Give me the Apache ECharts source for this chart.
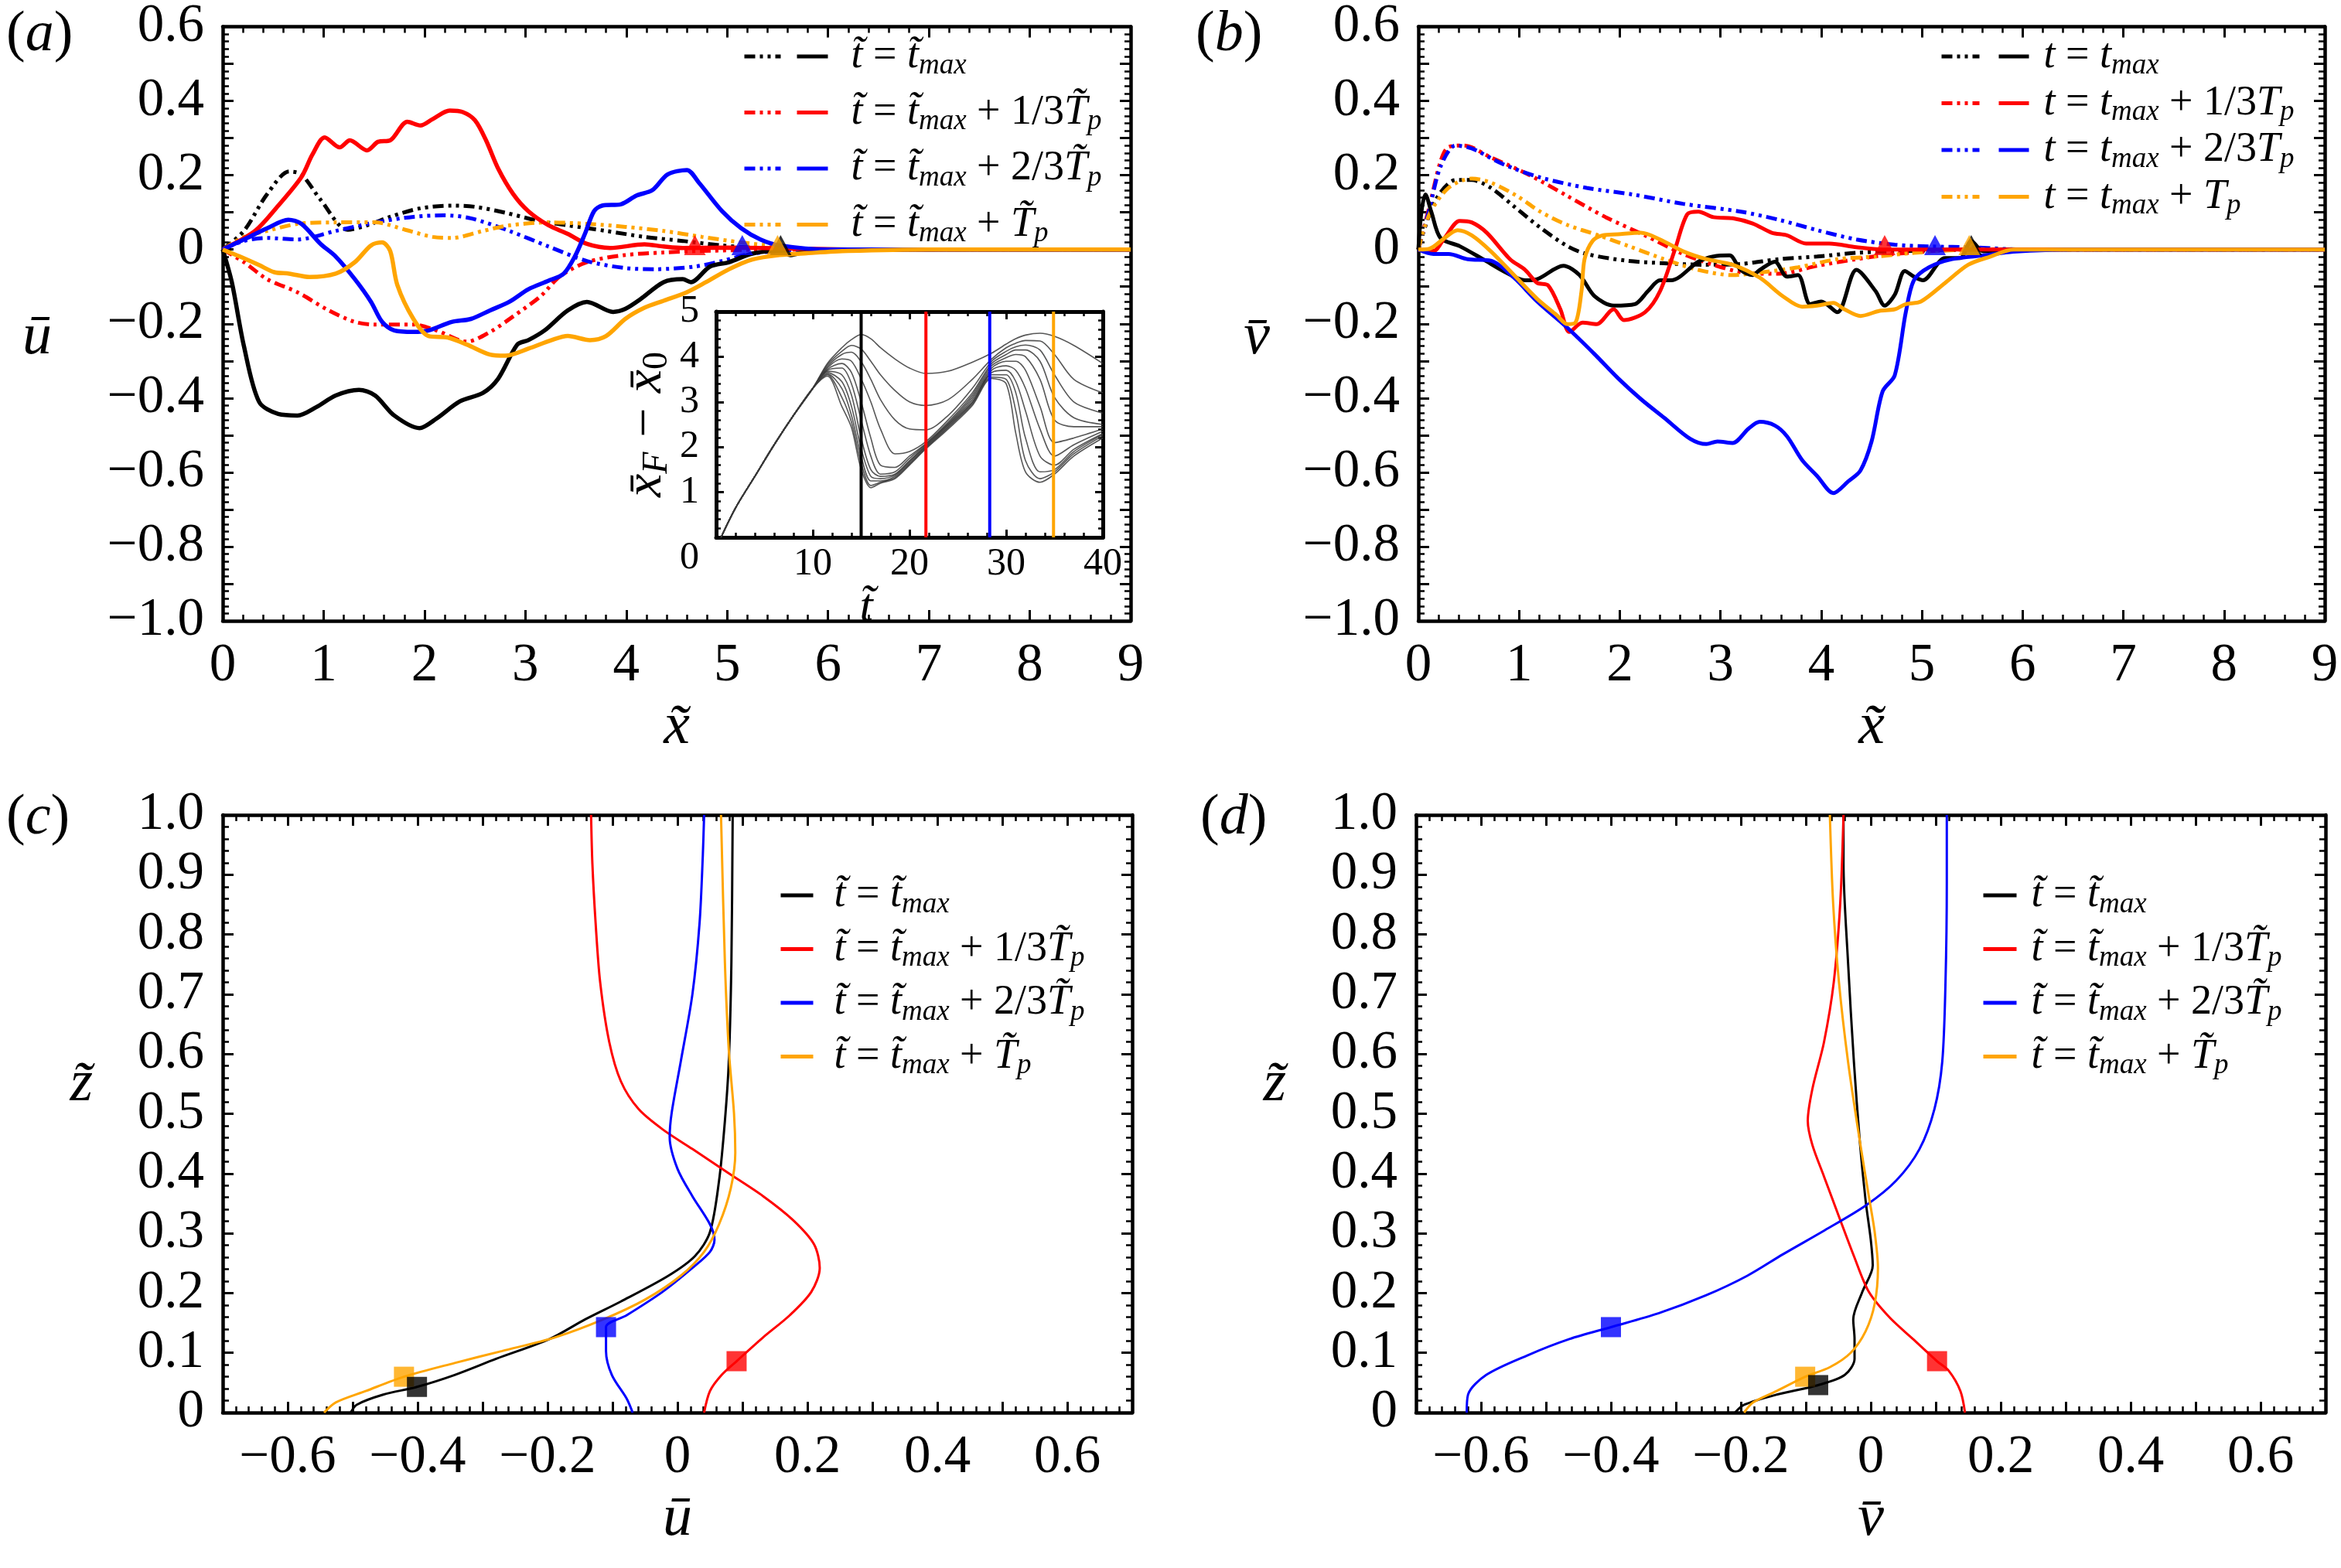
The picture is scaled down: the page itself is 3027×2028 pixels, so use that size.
<!DOCTYPE html>
<html>
<head>
<meta charset="utf-8">
<script src="https://cdn.jsdelivr.net/npm/echarts@6/dist/echarts.min.js"></script>
<style>
html,body{margin:0;padding:0;background:#fff}
#main{width:3027px;height:2028px}
</style>
</head>
<body>
<div id="main"></div>
<script>
// ---- panel (a): u along x, dash-dot = depth mean, solid = near-bed ----
var aBlackSolid = [[0,0],[0.09,-0.088],[0.21,-0.26],[0.36,-0.41],[0.55,-0.443],[0.74,-0.447],[0.93,-0.424],[1.12,-0.393],[1.35,-0.378],[1.51,-0.393],[1.70,-0.447],[1.95,-0.481],[2.12,-0.455],[2.35,-0.409],[2.58,-0.386],[2.73,-0.348],[2.92,-0.256],[3.03,-0.244],[3.19,-0.218],[3.42,-0.164],[3.61,-0.141],[3.87,-0.168],[3.99,-0.16],[4.14,-0.134],[4.37,-0.088],[4.56,-0.08],[4.64,-0.088],[4.83,-0.046],[5.02,-0.034],[5.25,-0.011],[5.52,-0.004],[5.63,-0.015],[5.8,-0.004],[6.2,0],[9,0]];
var aRedSolid = [[0,0],[0.32,0.05],[0.55,0.118],[0.78,0.195],[0.89,0.256],[1.01,0.302],[1.16,0.275],[1.26,0.294],[1.43,0.267],[1.54,0.29],[1.66,0.294],[1.83,0.344],[1.96,0.334],[2.08,0.351],[2.25,0.374],[2.38,0.37],[2.5,0.348],[2.61,0.294],[2.73,0.218],[2.88,0.149],[3.03,0.103],[3.23,0.065],[3.42,0.042],[3.61,0.015],[3.84,0.004],[4.18,0.014],[4.37,0.008],[4.56,0.004],[5.0,0.005],[5.6,0.003],[6.2,0],[9,0]];
var aBlueSolid = [[0,0],[0.21,0.027],[0.44,0.057],[0.65,0.08],[0.78,0.069],[0.97,0.015],[1.12,-0.019],[1.31,-0.08],[1.47,-0.141],[1.58,-0.195],[1.7,-0.218],[1.89,-0.222],[2.04,-0.218],[2.27,-0.195],[2.46,-0.187],[2.65,-0.164],[2.84,-0.141],[3.03,-0.107],[3.23,-0.084],[3.38,-0.065],[3.49,-0.019],[3.59,0.042],[3.68,0.103],[3.76,0.118],[3.95,0.122],[4.1,0.145],[4.26,0.16],[4.41,0.202],[4.6,0.214],[4.72,0.18],[4.95,0.103],[5.14,0.057],[5.33,0.027],[5.52,0.011],[6.0,0],[9,0]];
var aOrangeSolid = [[0,0],[0.17,-0.019],[0.36,-0.042],[0.51,-0.061],[0.66,-0.065],[0.86,-0.074],[1.12,-0.065],[1.31,-0.034],[1.47,0.011],[1.58,0.019],[1.66,-0.004],[1.73,-0.095],[1.89,-0.187],[2.04,-0.233],[2.23,-0.237],[2.42,-0.256],[2.65,-0.283],[2.8,-0.286],[3.03,-0.267],[3.26,-0.244],[3.42,-0.233],[3.64,-0.244],[3.8,-0.233],[3.99,-0.187],[4.18,-0.157],[4.37,-0.138],[4.6,-0.115],[4.79,-0.088],[5.02,-0.053],[5.25,-0.027],[5.52,-0.015],[5.79,-0.01],[6.2,-0.004],[7,0],[9,0]];
var aBlackDash = [[0,0],[0.21,0.05],[0.44,0.149],[0.66,0.21],[0.78,0.202],[0.97,0.134],[1.24,0.053],[1.43,0.065],[1.66,0.088],[1.96,0.111],[2.27,0.118],[2.5,0.115],[2.8,0.099],[3.15,0.076],[3.42,0.065],[3.8,0.05],[4.18,0.034],[4.56,0.023],[4.95,0.011],[5.33,0.004],[6,0],[9,0]];
var aRedDash = [[0,0],[0.21,-0.034],[0.44,-0.08],[0.74,-0.115],[1.05,-0.164],[1.31,-0.195],[1.51,-0.202],[1.89,-0.202],[2.12,-0.218],[2.42,-0.248],[2.65,-0.222],[2.88,-0.18],[3.15,-0.126],[3.34,-0.073],[3.61,-0.034],[3.99,-0.015],[4.37,-0.008],[4.75,-0.004],[5.5,0],[9,0]];
var aBlueDash = [[0,0],[0.21,0.023],[0.44,0.031],[0.74,0.027],[1.12,0.05],[1.51,0.073],[1.89,0.088],[2.19,0.092],[2.46,0.084],[2.84,0.05],[3.23,0.008],[3.61,-0.031],[3.99,-0.05],[4.3,-0.053],[4.68,-0.046],[4.95,-0.031],[5.25,-0.011],[5.8,0],[9,0]];
var aOrangeDash = [[0,0],[0.21,0.034],[0.44,0.05],[0.74,0.069],[1.12,0.073],[1.51,0.073],[1.81,0.053],[2.08,0.034],[2.27,0.031],[2.58,0.05],[2.84,0.065],[3.23,0.073],[3.61,0.069],[3.99,0.061],[4.37,0.05],[4.75,0.034],[5.14,0.019],[5.52,0.008],[5.9,0],[9,0]];
var aFrontX = [5.53, 4.68, 5.15, 5.5];
var aFrontY = [0.012, 0.012, 0.012, 0.012];

// ---- panel (b): v along x ----
var bBlackSolid = [[0,0],[0.03,0.10],[0.07,0.148],[0.13,0.10],[0.22,0.031],[0.41,0.009],[0.64,-0.026],[0.87,-0.062],[1.06,-0.083],[1.18,-0.08],[1.44,-0.044],[1.6,-0.069],[1.75,-0.126],[1.94,-0.151],[2.15,-0.147],[2.28,-0.112],[2.4,-0.083],[2.51,-0.083],[2.78,-0.033],[2.93,-0.019],[3.09,-0.016],[3.2,-0.055],[3.32,-0.069],[3.39,-0.055],[3.54,-0.033],[3.66,-0.073],[3.77,-0.069],[3.89,-0.147],[4.0,-0.14],[4.16,-0.169],[4.35,-0.055],[4.54,-0.112],[4.63,-0.151],[4.73,-0.122],[4.83,-0.058],[4.92,-0.073],[5.01,-0.083],[5.23,-0.023],[5.38,-0.023],[5.49,0.023],[5.61,-0.005],[5.87,0],[9,0]];
var bRedSolid = [[0,0],[0.15,-0.004],[0.26,0.031],[0.41,0.077],[0.53,0.073],[0.68,0.045],[0.91,-0.026],[1.06,-0.055],[1.18,-0.09],[1.29,-0.097],[1.41,-0.161],[1.5,-0.222],[1.63,-0.197],[1.77,-0.201],[1.94,-0.161],[2.04,-0.19],[2.25,-0.169],[2.4,-0.112],[2.55,0.002],[2.67,0.095],[2.78,0.102],[2.93,0.087],[3.12,0.084],[3.32,0.07],[3.51,0.045],[3.66,0.038],[3.85,0.016],[4.08,0.016],[4.35,0.006],[4.61,0],[9,0]];
var bBlueSolid = [[0,0],[0.15,-0.012],[0.3,-0.012],[0.49,-0.026],[0.72,-0.03],[0.95,-0.076],[1.18,-0.14],[1.48,-0.211],[1.75,-0.282],[1.98,-0.346],[2.21,-0.403],[2.44,-0.453],[2.7,-0.51],[2.86,-0.524],[2.97,-0.517],[3.12,-0.521],[3.28,-0.482],[3.39,-0.464],[3.54,-0.474],[3.66,-0.503],[3.81,-0.567],[3.96,-0.61],[4.12,-0.656],[4.27,-0.624],[4.39,-0.595],[4.5,-0.517],[4.61,-0.382],[4.73,-0.339],[4.84,-0.169],[4.92,-0.083],[5.07,-0.048],[5.3,-0.026],[5.61,-0.016],[5.91,-0.006],[6.5,0],[9,0]];
var bOrangeSolid = [[0,0],[0.11,0.002],[0.26,0.031],[0.39,0.052],[0.53,0.038],[0.72,-0.005],[0.95,-0.069],[1.18,-0.133],[1.37,-0.176],[1.48,-0.201],[1.56,-0.197],[1.62,-0.112],[1.65,-0.026],[1.73,0.023],[1.83,0.038],[1.98,0.041],[2.21,0.045],[2.4,0.027],[2.63,-0.005],[2.86,-0.026],[3.12,-0.041],[3.39,-0.076],[3.62,-0.126],[3.81,-0.154],[3.96,-0.151],[4.12,-0.144],[4.23,-0.161],[4.39,-0.179],[4.58,-0.165],[4.73,-0.161],[4.84,-0.147],[4.99,-0.14],[5.23,-0.09],[5.46,-0.041],[5.68,-0.019],[5.91,0],[9,0]];
var bBlackDash = [[0,0],[0.03,0.031],[0.18,0.137],[0.37,0.187],[0.53,0.187],[0.72,0.166],[0.95,0.116],[1.21,0.059],[1.48,0.009],[1.67,-0.012],[2.06,-0.03],[2.44,-0.037],[2.82,-0.041],[3.2,-0.039],[3.58,-0.026],[3.96,-0.019],[4.35,-0.009],[4.73,-0.005],[5.5,0],[9,0]];
var bRedDash = [[0,0],[0.11,0.116],[0.22,0.237],[0.3,0.276],[0.45,0.28],[0.72,0.248],[1.1,0.201],[1.48,0.144],[1.86,0.087],[2.25,0.038],[2.63,-0.012],[3.01,-0.048],[3.32,-0.065],[3.58,-0.065],[3.96,-0.044],[4.35,-0.026],[4.73,-0.012],[5.5,0],[9,0]];
var bBlueDash = [[0,0],[0.11,0.109],[0.22,0.223],[0.37,0.28],[0.53,0.272],[0.84,0.23],[1.21,0.194],[1.67,0.166],[2.13,0.148],[2.63,0.123],[3.2,0.102],[3.58,0.08],[3.96,0.052],[4.35,0.027],[4.73,0.013],[5.11,0.008],[5.49,0.006],[6,0],[9,0]];
var bOrangeDash = [[0,0],[0.11,0.095],[0.3,0.166],[0.53,0.191],[0.72,0.18],[0.98,0.144],[1.21,0.102],[1.48,0.066],[1.79,0.038],[2.09,0.009],[2.44,-0.026],[2.78,-0.055],[3.12,-0.069],[3.39,-0.062],[3.77,-0.048],[4.16,-0.026],[4.54,-0.019],[4.92,-0.009],[5.5,0],[9,0]];
var bFrontX = [5.49, 4.63, 5.13, 5.47];
var bFrontY = [0.012, 0.012, 0.012, 0.012];

// ---- panel (c): u profiles over z ([u, z]) ----
var cBlack = [[-0.503,0],[-0.494,0.013],[-0.453,0.03],[-0.401,0.043],[-0.343,0.063],[-0.279,0.09],[-0.197,0.123],[-0.142,0.156],[-0.087,0.186],[-0.014,0.229],[0.027,0.262],[0.05,0.302],[0.064,0.388],[0.073,0.488],[0.079,0.587],[0.083,0.753],[0.085,1.0]];
var cRed = [[0.041,0],[0.05,0.036],[0.068,0.063],[0.091,0.086],[0.132,0.126],[0.173,0.163],[0.206,0.202],[0.219,0.242],[0.21,0.282],[0.178,0.322],[0.132,0.362],[0.078,0.401],[0.023,0.441],[-0.023,0.474],[-0.06,0.508],[-0.087,0.554],[-0.105,0.62],[-0.119,0.72],[-0.126,0.819],[-0.131,0.919],[-0.133,1.0]];
var cBlue = [[-0.069,0],[-0.078,0.023],[-0.101,0.063],[-0.11,0.103],[-0.11,0.143],[-0.078,0.163],[-0.023,0.202],[0.023,0.242],[0.05,0.269],[0.057,0.289],[0.05,0.315],[0.023,0.362],[0.0,0.408],[-0.012,0.461],[-0.009,0.501],[0.005,0.587],[0.023,0.7],[0.034,0.819],[0.039,0.932],[0.041,1.0]];
var cOrange = [[-0.544,0],[-0.526,0.017],[-0.48,0.036],[-0.421,0.06],[-0.343,0.083],[-0.27,0.103],[-0.188,0.126],[-0.114,0.156],[-0.05,0.189],[0.005,0.229],[0.041,0.269],[0.064,0.315],[0.082,0.375],[0.089,0.435],[0.087,0.501],[0.079,0.607],[0.073,0.753],[0.067,1.0]];
var cMarkU = [-0.421, -0.401, 0.091, -0.110];
var cMarkZ = [0.060, 0.043, 0.086, 0.143];

// ---- panel (d): v profiles over z ----
var dBlack = [[-0.209,0],[-0.195,0.013],[-0.145,0.03],[-0.081,0.046],[-0.04,0.063],[-0.025,0.09],[-0.025,0.123],[-0.027,0.156],[-0.013,0.202],[0.003,0.246],[0.0,0.289],[-0.008,0.355],[-0.017,0.455],[-0.026,0.587],[-0.035,0.753],[-0.042,0.919],[-0.042,1.0]];
var dRed = [[0.145,0],[0.138,0.036],[0.12,0.07],[0.102,0.086],[0.065,0.123],[0.029,0.159],[-0.003,0.202],[-0.026,0.262],[-0.049,0.328],[-0.072,0.395],[-0.09,0.448],[-0.097,0.488],[-0.09,0.541],[-0.072,0.62],[-0.057,0.72],[-0.047,0.853],[-0.042,1.0]];
var dBlue = [[-0.622,0],[-0.62,0.03],[-0.592,0.063],[-0.528,0.096],[-0.464,0.123],[-0.4,0.143],[-0.327,0.166],[-0.254,0.196],[-0.19,0.229],[-0.135,0.265],[-0.071,0.305],[-0.007,0.347],[0.039,0.388],[0.075,0.441],[0.098,0.508],[0.11,0.587],[0.115,0.72],[0.117,0.886],[0.117,1.0]];
var dOrange = [[-0.195,0],[-0.181,0.017],[-0.145,0.036],[-0.101,0.06],[-0.063,0.076],[-0.031,0.1],[-0.008,0.136],[0.006,0.182],[0.011,0.242],[0.006,0.302],[-0.003,0.362],[-0.017,0.455],[-0.035,0.587],[-0.049,0.72],[-0.058,0.853],[-0.063,1.0]];
var dMarkU = [-0.101, -0.081, 0.102, -0.400];
var dMarkZ = [0.060, 0.046, 0.086, 0.143];

// ---- inset: front position vs time ----
var insetT = [0.5, 2, 4, 6, 8, 10, 11.5, 13, 14, 15, 16, 17, 18.5, 20, 21.7, 24, 26.5, 28.5, 30, 31, 32, 33.5, 35, 37, 40];
var insetRise = [0, 0.65, 1.35, 2.05, 2.7, 3.3];
var insetTails = [
  [3.85, 4.2, 4.38, 4.49, 4.4, 4.2, 3.95, 3.75, 3.63, 3.68, 3.88, 4.08, 4.28, 4.4, 4.48, 4.52, 4.45, 4.25, 3.85],
  [3.82, 4.12, 4.25, 4.17, 3.9, 3.6, 3.25, 3.0, 2.92, 3.05, 3.5, 3.95, 4.2, 4.3, 4.36, 4.35, 4.05, 3.5, 3.2],
  [3.78, 4.05, 4.1, 3.89, 3.5, 3.05, 2.6, 2.4, 2.38, 2.7, 3.3, 3.9, 4.12, 4.22, 4.26, 4.15, 3.6, 3.0, 2.75],
  [3.75, 3.95, 3.9, 3.51, 3.0, 2.4, 1.85, 1.9, 2.12, 2.6, 3.2, 3.85, 4.05, 4.15, 4.15, 3.9, 3.1, 2.65, 2.5],
  [3.72, 3.85, 3.65, 3.0, 2.2, 1.6, 1.55, 1.8, 2.08, 2.55, 3.15, 3.8, 3.98, 4.05, 4.0, 3.5, 2.6, 2.45, 2.45],
  [3.7, 3.75, 3.4, 2.6, 1.8, 1.4, 1.45, 1.75, 2.06, 2.52, 3.1, 3.75, 3.9, 3.9, 3.7, 2.9, 2.1, 2.2, 2.4],
  [3.68, 3.6, 3.15, 2.2, 1.5, 1.35, 1.4, 1.7, 2.04, 2.5, 3.05, 3.7, 3.8, 3.7, 3.3, 2.4, 1.8, 2.05, 2.35],
  [3.65, 3.45, 2.9, 1.97, 1.35, 1.3, 1.38, 1.68, 2.02, 2.48, 3.0, 3.65, 3.7, 3.45, 2.8, 1.8, 1.6, 1.95, 2.3],
  [3.62, 3.3, 2.7, 1.8, 1.25, 1.25, 1.35, 1.65, 2.0, 2.45, 2.98, 3.6, 3.6, 3.2, 2.2, 1.45, 1.5, 1.9, 2.28],
  [3.6, 3.1, 2.55, 1.65, 1.15, 1.22, 1.32, 1.62, 1.98, 2.43, 2.95, 3.55, 3.5, 2.8, 1.7, 1.3, 1.45, 1.85, 2.25],
  [3.57, 2.9, 2.43, 1.51, 1.1, 1.2, 1.3, 1.6, 1.96, 2.4, 2.92, 3.52, 3.4, 2.3, 1.45, 1.22, 1.4, 1.8, 2.2]
];
var insetMarkT = [15, 21.7, 28.3, 34.9];

var COLORS = ['#000000', '#ff0000', '#0000ff', '#ffa500'];
var LABELS_TILDE = [
  '{i|t\u0303} = {i|t\u0303}{s|max}',
  '{i|t\u0303} = {i|t\u0303}{s|max} + 1/3{i|T\u0303}{s|p}',
  '{i|t\u0303} = {i|t\u0303}{s|max} + 2/3{i|T\u0303}{s|p}',
  '{i|t\u0303} = {i|t\u0303}{s|max} + {i|T\u0303}{s|p}'
];
var LABELS_PLAIN = [
  '{i|t} = {i|t}{s|max}',
  '{i|t} = {i|t}{s|max} + 1/3{i|T}{s|p}',
  '{i|t} = {i|t}{s|max} + 2/3{i|T}{s|p}',
  '{i|t} = {i|t}{s|max} + {i|T}{s|p}'
];

var SERIF = "'Liberation Serif', 'Times New Roman', serif";
var MINUS = '\u2212';
var DASHDOT = [14, 6, 4, 6, 4, 6];

function num(v, d) {
  if (Math.abs(v) < 1e-9) return '0';
  return (v < 0 ? MINUS : '') + Math.abs(v).toFixed(d);
}
function evenTenth(v) { return Math.round(v * 10) % 2 === 0; }
function tok(s) { return s === '' ? '' : '{n|' + s + '}'; }

var legendRich = {
  n: {fontFamily: SERIF, fontSize: 54, color: '#000'},
  i: {fontFamily: SERIF, fontStyle: 'italic', fontSize: 54, color: '#000'},
  s: {fontFamily: SERIF, fontStyle: 'italic', fontSize: 37, color: '#000', padding: [24, 0, 0, 0]}
};

function axisPair(dim, grid, min, max, interval, minorSplit, fmt, o) {
  o = o || {};
  var lw = o.lineWidth || 4.5;
  var tl = o.tickLen || 14;
  var fs = o.fontSize || 69;
  var rich = Object.assign({n: {fontFamily: SERIF, fontSize: fs, color: '#000'}}, o.labelRich || {});
  var common = {
    type: 'value', gridIndex: grid, min: min, max: max, interval: interval, silent: true,
    axisLine: {show: true, onZero: false, lineStyle: {color: '#000', width: lw}},
    axisTick: {show: true, inside: true, length: tl, lineStyle: {color: '#000', width: 3}},
    minorTick: {show: true, splitNumber: minorSplit, length: Math.round(tl * 0.55), lineStyle: {color: '#000', width: 2.5}},
    splitLine: {show: false}, minorSplitLine: {show: false}
  };
  var main = Object.assign({}, common, {
    position: dim === 'x' ? 'bottom' : 'left',
    axisLabel: {show: true, formatter: fmt, color: '#000', fontFamily: SERIF, fontSize: fs,
      margin: o.margin || 24, rich: rich},
    name: o.name || '', nameLocation: 'middle', nameGap: o.nameGap || 0, nameRotate: o.nameRotate,
    nameTextStyle: {color: '#000', fontFamily: SERIF, fontSize: 76, rich: o.nameRich || {}}
  });
  var mirror = Object.assign({}, common, {
    position: dim === 'x' ? 'top' : 'right', axisLabel: {show: false}
  });
  return [main, mirror];
}

function nameRich(pad) {
  return {m: {fontFamily: SERIF, fontStyle: 'italic', fontSize: 76, color: '#000', padding: pad}};
}

var fmtX9 = function (v) { return tok(String(Math.round(v))); };
var fmtY = function (v) { return evenTenth(v) ? tok(num(v, 1)) : ''; };
var fmtP = function (v) { return evenTenth(v) ? tok(num(v, 1)) : ''; };
var fmtZ = function (v) { return tok(num(v, 1)); };

var xAxes = [], yAxes = [];
// grid 0 (a)
xAxes = xAxes.concat(axisPair('x', 0, 0, 9, 1, 5, fmtX9,
  {name: '{m|x\u0303}', nameGap: 100, nameRich: nameRich([0, 0, 0, 0])}));
yAxes = yAxes.concat(axisPair('y', 0, -1, 0.6, 0.1, 5, fmtY,
  {name: '{m|\u016b}', nameGap: 221, nameRotate: 0, nameRich: nameRich([36, 0, 0, 0])}));
// grid 1 (b)
xAxes = xAxes.concat(axisPair('x', 1, 0, 9, 1, 5, fmtX9,
  {name: '{m|x\u0303}', nameGap: 100, nameRich: nameRich([0, 0, 0, 0])}));
yAxes = yAxes.concat(axisPair('y', 1, -1, 0.6, 0.1, 5, fmtY,
  {name: '{m|v\u0304}', nameGap: 192, nameRotate: 0, nameRich: nameRich([36, 0, 0, 0])}));
// grid 2 (c)
xAxes = xAxes.concat(axisPair('x', 2, -0.7, 0.7, 0.1, 5, fmtP,
  {name: '{m|\u016b}', nameGap: 100, nameRich: nameRich([0, 0, 0, 0])}));
yAxes = yAxes.concat(axisPair('y', 2, 0, 1, 0.1, 5, fmtZ,
  {name: '{m|z\u0303}', nameGap: 168, nameRotate: 0, nameRich: nameRich([0, 0, 74, 0])}));
// grid 3 (d)
xAxes = xAxes.concat(axisPair('x', 3, -0.7, 0.7, 0.1, 5, fmtP,
  {name: '{m|v\u0304}', nameGap: 100, nameRich: nameRich([0, 0, 0, 0])}));
yAxes = yAxes.concat(axisPair('y', 3, 0, 1, 0.1, 5, fmtZ,
  {name: '{m|z\u0303}', nameGap: 168, nameRotate: 0, nameRich: nameRich([0, 0, 74, 0])}));
// grid 4 (inset)
xAxes = xAxes.concat(axisPair('x', 4, 0, 40, 10, 5, function (v) { return v === 0 ? '' : tok(String(v)); },
  {fontSize: 50, margin: 10, tickLen: 10, lineWidth: 5, name: '{m|t\u0303}', nameGap: 1,
   nameRich: {m: {fontFamily: SERIF, fontStyle: 'italic', fontSize: 62, color: '#000', padding: [0, 112, 0, 0]}}}));
yAxes = yAxes.concat(axisPair('y', 4, 0, 5, 1, 5, function (v) { return v === 0 ? '{z|0}' : tok(String(v)); },
  {fontSize: 50, margin: 22, tickLen: 10, lineWidth: 5,
   labelRich: {z: {fontFamily: SERIF, fontSize: 50, color: '#000', padding: [54, 0, 0, 0]}},
   name: '{i|x\u0304}{s|F} {n|' + MINUS + '} {i|x\u0304}{s0|0}', nameGap: 52, nameRotate: 90,
   nameRich: {
     i: {fontFamily: SERIF, fontStyle: 'italic', fontSize: 68, color: '#000'},
     s: {fontFamily: SERIF, fontStyle: 'italic', fontSize: 46, color: '#000', padding: [28, 0, 0, 0]},
     s0: {fontFamily: SERIF, fontSize: 46, color: '#000', padding: [28, 0, 0, 0]},
     n: {fontFamily: SERIF, fontSize: 68, color: '#000'}
   }}));

function lineSeries(name, data, color, dashed, axis, width, z) {
  return {
    type: 'line', name: name, data: data, xAxisIndex: axis * 2, yAxisIndex: axis * 2,
    symbol: 'none', smooth: 0.3, silent: true, animation: false, z: z || 2,
    lineStyle: {color: color, width: width, type: dashed ? DASHDOT : 'solid'},
    itemStyle: {color: color}
  };
}
function markSeries(xs, ys, colors, axis, symbol, size) {
  return {
    type: 'scatter', xAxisIndex: axis * 2, yAxisIndex: axis * 2, symbol: symbol, symbolSize: size,
    silent: true, animation: false, z: 5,
    data: xs.map(function (x, k) { return {value: [x, ys[k]], itemStyle: {color: colors[k]}}; })
  };
}

var series = [];
var aDash = [aBlackDash, aRedDash, aBlueDash, aOrangeDash];
var aSolid = [aBlackSolid, aRedSolid, aBlueSolid, aOrangeSolid];
var bDash = [bBlackDash, bRedDash, bBlueDash, bOrangeDash];
var bSolid = [bBlackSolid, bRedSolid, bBlueSolid, bOrangeSolid];
var cLines = [cBlack, cRed, cBlue, cOrange];
var dLines = [dBlack, dRed, dBlue, dOrange];
var nameMap = {};
for (var k = 0; k < 4; k++) {
  series.push(lineSeries('aD' + k, aDash[k], COLORS[k], true, 0, 5));
  series.push(lineSeries('bD' + k, bDash[k], COLORS[k], true, 1, 5));
}
for (k = 0; k < 4; k++) {
  series.push(lineSeries('aS' + k, aSolid[k], COLORS[k], false, 0, 5.5, 3));
  series.push(lineSeries('bS' + k, bSolid[k], COLORS[k], false, 1, 5, 3));
  series.push(lineSeries('cS' + k, cLines[k], COLORS[k], false, 2, 3, 3));
  series.push(lineSeries('dS' + k, dLines[k], COLORS[k], false, 3, 3, 3));
  nameMap['aS' + k] = LABELS_TILDE[k];
  nameMap['bS' + k] = LABELS_PLAIN[k];
  nameMap['cS' + k] = LABELS_TILDE[k];
  nameMap['dS' + k] = LABELS_TILDE[k];
}
series.push(markSeries(aFrontX, aFrontY, COLORS, 0, 'triangle', [28, 26]));
series.push(markSeries(bFrontX, bFrontY, COLORS, 1, 'triangle', [28, 26]));
var markColors = ['#ffa500', '#000000', '#ff0000', '#0000ff'];
series.push(markSeries(cMarkU, cMarkZ, markColors, 2, 'rect', 26));
series.push(markSeries(dMarkU, dMarkZ, markColors, 3, 'rect', 26));

insetTails.forEach(function (tail) {
  var ys = insetRise.concat(tail);
  series.push({
    type: 'line', xAxisIndex: 8, yAxisIndex: 8, symbol: 'none', smooth: 0.3, silent: true, animation: false,
    lineStyle: {color: '#3a3a3a', width: 1.6, opacity: 0.85},
    data: insetT.map(function (t, i) { return [t, ys[i]]; })
  });
});
insetMarkT.forEach(function (t, k) {
  series.push({
    type: 'line', xAxisIndex: 8, yAxisIndex: 8, symbol: 'none', silent: true, animation: false, z: 4,
    lineStyle: {color: COLORS[k], width: 4},
    data: [[t, 0], [t, 5]]
  });
});

function legendOf(names, left, top, iconW, gap, textPad, blank) {
  return {
    data: names, orient: 'vertical', left: left, top: top, itemWidth: iconW, itemHeight: 2,
    itemGap: gap, selectedMode: false, padding: 0,
    formatter: function (n) { return blank ? '{s| }{i| }' : nameMap[n]; },
    textStyle: {fontFamily: SERIF, fontSize: 54, color: '#000', padding: [0, 0, 0, textPad], rich: legendRich},
    itemStyle: {opacity: 0, borderWidth: 0},
    lineStyle: {width: 5}
  };
}

function tag(letter, left, top) {
  return {
    text: '{p|(}{i|' + letter + '}{p|)}', left: left, top: top, padding: 0,
    textStyle: {fontWeight: 'normal', rich: {
      p: {fontFamily: SERIF, fontWeight: 'normal', fontSize: 74, color: '#000'},
      i: {fontFamily: SERIF, fontWeight: 'normal', fontStyle: 'italic', fontSize: 74, color: '#000'}
    }}
  };
}

var option = {
  backgroundColor: '#ffffff',
  animation: false,
  textStyle: {fontFamily: SERIF},
  title: [tag('a', 8, 9), tag('b', 1546, 9), tag('c', 8, 1022), tag('d', 1552, 1022)],
  grid: [
    {left: 288, top: 32, width: 1174, height: 771},
    {left: 1834, top: 32, width: 1172, height: 771},
    {left: 288, top: 1054, width: 1176, height: 773},
    {left: 1831, top: 1054, width: 1176, height: 773},
    {left: 926, top: 403, width: 500, height: 292}
  ],
  xAxis: xAxes,
  yAxis: yAxes,
  legend: [
    legendOf(['aD0', 'aD1', 'aD2', 'aD3'], 960, 46, 47, 15, 25, true),
    legendOf(['aS0', 'aS1', 'aS2', 'aS3'], 1028, 46, 40, 15, 25, false),
    legendOf(['bD0', 'bD1', 'bD2', 'bD3'], 2508, 46, 49, 3, 14, true),
    legendOf(['bS0', 'bS1', 'bS2', 'bS3'], 2582, 46, 39, 3, 14, false),
    legendOf(['cS0', 'cS1', 'cS2', 'cS3'], 1007, 1131, 42, 12, 22, false),
    legendOf(['dS0', 'dS1', 'dS2', 'dS3'], 2562, 1131, 43, 12, 14, false)
  ],
  series: series
};

var chart = echarts.init(document.getElementById('main'));
chart.setOption(option);
</script>
</body>
</html>
